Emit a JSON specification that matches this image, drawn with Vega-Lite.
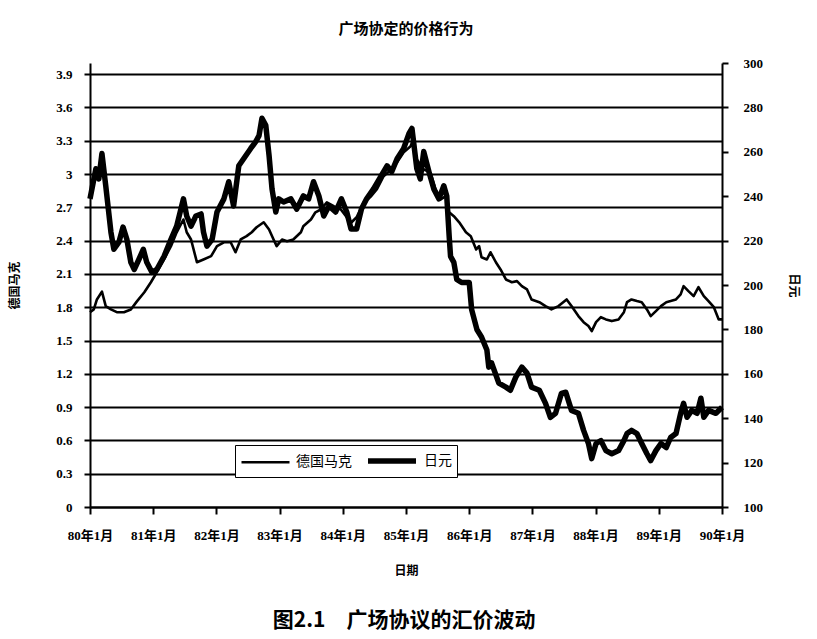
{
  "$schema": "https://vega.github.io/schema/vega-lite/v6.json",
  "background": "white",
  "padding": {"left": 8, "top": 22, "right": 10, "bottom": 8},
  "config": {"view": {"stroke": null}, "font": "Liberation Serif"},
  "title": {
    "text": "图2.1\u3000广场协议的汇价波动",
    "orient": "bottom",
    "font": "Noto Sans CJK SC",
    "fontSize": 21,
    "fontWeight": "bold",
    "color": "#000",
    "anchor": "middle",
    "offset": 34
  },
  "vconcat": [
    {
      "width": 632,
      "height": 444,
      "title": {
        "text": "广场协定的价格行为",
        "font": "Noto Sans CJK SC",
        "fontSize": 15,
        "fontWeight": "bold",
        "color": "#000",
        "offset": 20
      },
      "data": {
        "values": [
          {"date": "1980-01-01", "series": "日元", "value": 238.8},
          {"date": "1980-02-04", "series": "日元", "value": 252.4},
          {"date": "1980-02-21", "series": "日元", "value": 247.8},
          {"date": "1980-03-10", "series": "日元", "value": 259.2},
          {"date": "1980-04-01", "series": "日元", "value": 244.7},
          {"date": "1980-05-01", "series": "日元", "value": 223.8},
          {"date": "1980-05-18", "series": "日元", "value": 216.1},
          {"date": "1980-06-16", "series": "日元", "value": 219.3},
          {"date": "1980-07-10", "series": "日元", "value": 226.1},
          {"date": "1980-08-01", "series": "日元", "value": 220.6},
          {"date": "1980-08-24", "series": "日元", "value": 210.2},
          {"date": "1980-09-13", "series": "日元", "value": 207.0},
          {"date": "1980-10-10", "series": "日元", "value": 211.6},
          {"date": "1980-11-04", "series": "日元", "value": 216.1},
          {"date": "1980-11-24", "series": "日元", "value": 210.2},
          {"date": "1980-12-24", "series": "日元", "value": 205.7},
          {"date": "1981-01-21", "series": "日元", "value": 207.0},
          {"date": "1981-03-04", "series": "日元", "value": 212.9},
          {"date": "1981-04-13", "series": "日元", "value": 220.6},
          {"date": "1981-05-16", "series": "日元", "value": 226.5},
          {"date": "1981-06-24", "series": "日元", "value": 238.8},
          {"date": "1981-07-13", "series": "日元", "value": 231.1},
          {"date": "1981-08-07", "series": "日元", "value": 226.5},
          {"date": "1981-09-04", "series": "日元", "value": 231.1},
          {"date": "1981-10-04", "series": "日元", "value": 232.0},
          {"date": "1981-10-18", "series": "日元", "value": 223.8},
          {"date": "1981-11-07", "series": "日元", "value": 217.5},
          {"date": "1981-12-07", "series": "日元", "value": 220.6},
          {"date": "1982-01-04", "series": "日元", "value": 232.9},
          {"date": "1982-02-13", "series": "日元", "value": 238.8},
          {"date": "1982-03-13", "series": "日元", "value": 246.5},
          {"date": "1982-04-10", "series": "日元", "value": 235.6},
          {"date": "1982-05-10", "series": "日元", "value": 253.7},
          {"date": "1982-06-07", "series": "日元", "value": 256.9},
          {"date": "1982-07-18", "series": "日元", "value": 261.5},
          {"date": "1982-08-16", "series": "日元", "value": 264.6},
          {"date": "1982-09-04", "series": "日元", "value": 267.3},
          {"date": "1982-09-21", "series": "日元", "value": 275.1},
          {"date": "1982-10-13", "series": "日元", "value": 271.9},
          {"date": "1982-11-01", "series": "日元", "value": 258.3},
          {"date": "1982-11-18", "series": "日元", "value": 243.3},
          {"date": "1982-12-10", "series": "日元", "value": 232.9},
          {"date": "1982-12-27", "series": "日元", "value": 238.8},
          {"date": "1983-01-24", "series": "日元", "value": 237.4},
          {"date": "1983-03-07", "series": "日元", "value": 238.8},
          {"date": "1983-04-10", "series": "日元", "value": 234.2},
          {"date": "1983-05-18", "series": "日元", "value": 240.1},
          {"date": "1983-06-18", "series": "日元", "value": 238.8},
          {"date": "1983-07-16", "series": "日元", "value": 246.5},
          {"date": "1983-08-16", "series": "日元", "value": 240.1},
          {"date": "1983-09-13", "series": "日元", "value": 231.1},
          {"date": "1983-10-13", "series": "日元", "value": 235.6},
          {"date": "1983-11-21", "series": "日元", "value": 232.9},
          {"date": "1983-12-24", "series": "日元", "value": 238.8},
          {"date": "1984-01-24", "series": "日元", "value": 232.9},
          {"date": "1984-02-18", "series": "日元", "value": 225.2},
          {"date": "1984-03-21", "series": "日元", "value": 225.2},
          {"date": "1984-04-18", "series": "日元", "value": 234.2},
          {"date": "1984-05-18", "series": "日元", "value": 238.8},
          {"date": "1984-06-27", "series": "日元", "value": 243.3},
          {"date": "1984-08-10", "series": "日元", "value": 249.2},
          {"date": "1984-09-13", "series": "日元", "value": 253.7},
          {"date": "1984-10-10", "series": "日元", "value": 251.0},
          {"date": "1984-11-10", "series": "日元", "value": 256.9},
          {"date": "1984-12-18", "series": "日元", "value": 261.5},
          {"date": "1985-01-18", "series": "日元", "value": 268.3},
          {"date": "1985-02-04", "series": "日元", "value": 270.5},
          {"date": "1985-03-04", "series": "日元", "value": 252.4},
          {"date": "1985-03-24", "series": "日元", "value": 247.8},
          {"date": "1985-04-13", "series": "日元", "value": 260.1},
          {"date": "1985-05-13", "series": "日元", "value": 251.0},
          {"date": "1985-06-10", "series": "日元", "value": 243.3},
          {"date": "1985-07-10", "series": "日元", "value": 238.8},
          {"date": "1985-08-07", "series": "日元", "value": 244.7},
          {"date": "1985-08-24", "series": "日元", "value": 240.1},
          {"date": "1985-09-07", "series": "日元", "value": 222.0},
          {"date": "1985-09-15", "series": "日元", "value": 212.9},
          {"date": "1985-10-04", "series": "日元", "value": 210.2},
          {"date": "1985-10-21", "series": "日元", "value": 202.5},
          {"date": "1985-11-18", "series": "日元", "value": 201.1},
          {"date": "1986-01-01", "series": "日元", "value": 201.1},
          {"date": "1986-01-15", "series": "日元", "value": 188.9},
          {"date": "1986-02-15", "series": "日元", "value": 179.8},
          {"date": "1986-03-13", "series": "日元", "value": 176.6},
          {"date": "1986-04-13", "series": "日元", "value": 170.7},
          {"date": "1986-04-24", "series": "日元", "value": 163.0},
          {"date": "1986-05-10", "series": "日元", "value": 164.9},
          {"date": "1986-06-21", "series": "日元", "value": 155.8},
          {"date": "1986-08-01", "series": "日元", "value": 154.0},
          {"date": "1986-08-27", "series": "日元", "value": 152.6},
          {"date": "1986-09-27", "series": "日元", "value": 158.5},
          {"date": "1986-11-01", "series": "日元", "value": 163.0},
          {"date": "1986-12-01", "series": "日元", "value": 160.3},
          {"date": "1986-12-27", "series": "日元", "value": 154.0},
          {"date": "1987-02-10", "series": "日元", "value": 152.6},
          {"date": "1987-03-18", "series": "日元", "value": 146.7},
          {"date": "1987-04-15", "series": "日元", "value": 140.4},
          {"date": "1987-05-15", "series": "日元", "value": 142.2},
          {"date": "1987-06-18", "series": "日元", "value": 151.2},
          {"date": "1987-07-13", "series": "日元", "value": 151.7},
          {"date": "1987-08-15", "series": "日元", "value": 143.5},
          {"date": "1987-09-24", "series": "日元", "value": 142.2},
          {"date": "1987-10-24", "series": "日元", "value": 134.5},
          {"date": "1987-11-21", "series": "日元", "value": 128.6},
          {"date": "1987-12-10", "series": "日元", "value": 121.8},
          {"date": "1988-01-04", "series": "日元", "value": 128.6},
          {"date": "1988-02-01", "series": "日元", "value": 129.9},
          {"date": "1988-03-01", "series": "日元", "value": 125.4},
          {"date": "1988-04-04", "series": "日元", "value": 124.0},
          {"date": "1988-05-13", "series": "日元", "value": 125.4},
          {"date": "1988-06-13", "series": "日元", "value": 129.9},
          {"date": "1988-07-01", "series": "日元", "value": 133.1},
          {"date": "1988-07-27", "series": "日元", "value": 134.5},
          {"date": "1988-08-27", "series": "日元", "value": 133.1},
          {"date": "1988-09-24", "series": "日元", "value": 128.6},
          {"date": "1988-10-24", "series": "日元", "value": 124.0},
          {"date": "1988-11-15", "series": "日元", "value": 120.9},
          {"date": "1988-12-15", "series": "日元", "value": 125.4},
          {"date": "1989-01-13", "series": "日元", "value": 128.6},
          {"date": "1989-02-13", "series": "日元", "value": 126.8},
          {"date": "1989-03-10", "series": "日元", "value": 131.3},
          {"date": "1989-04-10", "series": "日元", "value": 133.1},
          {"date": "1989-05-07", "series": "日元", "value": 142.2},
          {"date": "1989-05-24", "series": "日元", "value": 146.7},
          {"date": "1989-06-13", "series": "日元", "value": 140.4},
          {"date": "1989-07-10", "series": "日元", "value": 143.5},
          {"date": "1989-08-10", "series": "日元", "value": 142.2},
          {"date": "1989-09-01", "series": "日元", "value": 149.0},
          {"date": "1989-09-18", "series": "日元", "value": 140.4},
          {"date": "1989-10-15", "series": "日元", "value": 143.5},
          {"date": "1989-11-27", "series": "日元", "value": 142.2},
          {"date": "1990-01-01", "series": "日元", "value": 144.9},
          {"date": "1980-01-01", "series": "德国马克", "value": 1.755},
          {"date": "1980-01-23", "series": "德国马克", "value": 1.78},
          {"date": "1980-02-10", "series": "德国马克", "value": 1.87},
          {"date": "1980-03-10", "series": "德国马克", "value": 1.94},
          {"date": "1980-04-01", "series": "德国马克", "value": 1.81},
          {"date": "1980-05-01", "series": "德国马克", "value": 1.78},
          {"date": "1980-06-04", "series": "德国马克", "value": 1.755},
          {"date": "1980-07-15", "series": "德国马克", "value": 1.755},
          {"date": "1980-08-24", "series": "德国马克", "value": 1.78},
          {"date": "1980-09-27", "series": "德国马克", "value": 1.85},
          {"date": "1980-11-10", "series": "德国马克", "value": 1.935},
          {"date": "1980-12-18", "series": "德国马克", "value": 2.025},
          {"date": "1981-01-21", "series": "德国马克", "value": 2.115},
          {"date": "1981-03-04", "series": "德国马克", "value": 2.23},
          {"date": "1981-04-13", "series": "德国马克", "value": 2.35},
          {"date": "1981-05-16", "series": "德国马克", "value": 2.475},
          {"date": "1981-06-24", "series": "德国马克", "value": 2.59},
          {"date": "1981-07-13", "series": "德国马克", "value": 2.475},
          {"date": "1981-08-07", "series": "德国马克", "value": 2.41},
          {"date": "1981-09-10", "series": "德国马克", "value": 2.205},
          {"date": "1981-10-18", "series": "德国马克", "value": 2.23},
          {"date": "1981-12-01", "series": "德国马克", "value": 2.26},
          {"date": "1982-01-04", "series": "德国马克", "value": 2.35},
          {"date": "1982-02-13", "series": "德国马克", "value": 2.385},
          {"date": "1982-03-24", "series": "德国马克", "value": 2.385},
          {"date": "1982-04-21", "series": "德国马克", "value": 2.295},
          {"date": "1982-05-21", "series": "德国马克", "value": 2.41},
          {"date": "1982-06-24", "series": "德国马克", "value": 2.44},
          {"date": "1982-07-24", "series": "德国马克", "value": 2.475},
          {"date": "1982-08-21", "series": "德国马克", "value": 2.52},
          {"date": "1982-10-01", "series": "德国马克", "value": 2.565},
          {"date": "1982-11-01", "series": "德国马克", "value": 2.50},
          {"date": "1982-11-27", "series": "德国马克", "value": 2.41},
          {"date": "1982-12-15", "series": "德国马克", "value": 2.35},
          {"date": "1983-01-15", "series": "德国马克", "value": 2.41},
          {"date": "1983-02-13", "series": "德国马克", "value": 2.395},
          {"date": "1983-03-21", "series": "德国马克", "value": 2.41},
          {"date": "1983-05-04", "series": "德国马克", "value": 2.475},
          {"date": "1983-05-18", "series": "德国马克", "value": 2.53},
          {"date": "1983-07-01", "series": "德国马克", "value": 2.59},
          {"date": "1983-07-27", "series": "德国马克", "value": 2.655},
          {"date": "1983-08-27", "series": "德国马克", "value": 2.68},
          {"date": "1983-10-01", "series": "德国马克", "value": 2.745},
          {"date": "1983-11-10", "series": "德国马克", "value": 2.71},
          {"date": "1983-12-21", "series": "德国马克", "value": 2.68},
          {"date": "1984-01-24", "series": "德国马克", "value": 2.61},
          {"date": "1984-02-21", "series": "德国马克", "value": 2.565},
          {"date": "1984-03-21", "series": "德国马克", "value": 2.61},
          {"date": "1984-05-01", "series": "德国马克", "value": 2.745},
          {"date": "1984-06-13", "series": "德国马克", "value": 2.80},
          {"date": "1984-07-15", "series": "德国马克", "value": 2.86},
          {"date": "1984-08-24", "series": "德国马克", "value": 2.98},
          {"date": "1984-10-07", "series": "德国马克", "value": 3.04},
          {"date": "1984-11-10", "series": "德国马克", "value": 3.105},
          {"date": "1984-12-18", "series": "德国马克", "value": 3.195},
          {"date": "1985-01-27", "series": "德国马克", "value": 3.25},
          {"date": "1985-02-04", "series": "德国马克", "value": 3.285},
          {"date": "1985-03-04", "series": "德国马克", "value": 3.13},
          {"date": "1985-04-13", "series": "德国马克", "value": 3.04},
          {"date": "1985-05-21", "series": "德国马克", "value": 3.015},
          {"date": "1985-06-21", "series": "德国马克", "value": 2.86},
          {"date": "1985-07-18", "series": "德国马克", "value": 2.77},
          {"date": "1985-08-18", "series": "德国马克", "value": 2.80},
          {"date": "1985-09-07", "series": "德国马克", "value": 2.655},
          {"date": "1985-10-04", "series": "德国马克", "value": 2.62},
          {"date": "1985-11-04", "series": "德国马克", "value": 2.565},
          {"date": "1985-12-13", "series": "德国马克", "value": 2.475},
          {"date": "1986-01-10", "series": "德国马克", "value": 2.44},
          {"date": "1986-02-10", "series": "德国马克", "value": 2.32},
          {"date": "1986-02-27", "series": "德国马克", "value": 2.35},
          {"date": "1986-03-13", "series": "德国马克", "value": 2.25},
          {"date": "1986-04-13", "series": "德国马克", "value": 2.23},
          {"date": "1986-05-04", "series": "德国马克", "value": 2.295},
          {"date": "1986-06-04", "series": "德国马克", "value": 2.205},
          {"date": "1986-07-01", "series": "德国马克", "value": 2.14},
          {"date": "1986-08-01", "series": "德国马克", "value": 2.05},
          {"date": "1986-09-04", "series": "德国马克", "value": 2.025},
          {"date": "1986-10-04", "series": "德国马克", "value": 2.035},
          {"date": "1986-11-01", "series": "德国马克", "value": 1.99},
          {"date": "1986-12-01", "series": "德国马克", "value": 1.96},
          {"date": "1986-12-27", "series": "德国马克", "value": 1.87},
          {"date": "1987-02-10", "series": "德国马克", "value": 1.845},
          {"date": "1987-03-18", "series": "德国马克", "value": 1.81},
          {"date": "1987-04-21", "series": "德国马克", "value": 1.78},
          {"date": "1987-06-01", "series": "德国马克", "value": 1.81},
          {"date": "1987-07-18", "series": "德国马克", "value": 1.87},
          {"date": "1987-08-15", "series": "德国马克", "value": 1.81},
          {"date": "1987-09-24", "series": "德国马克", "value": 1.72},
          {"date": "1987-10-24", "series": "德国马克", "value": 1.665},
          {"date": "1987-11-21", "series": "德国马克", "value": 1.63},
          {"date": "1987-12-10", "series": "德国马克", "value": 1.585},
          {"date": "1988-01-04", "series": "德国马克", "value": 1.665},
          {"date": "1988-02-01", "series": "德国马克", "value": 1.71},
          {"date": "1988-03-01", "series": "德国马克", "value": 1.69},
          {"date": "1988-04-04", "series": "德国马克", "value": 1.675},
          {"date": "1988-05-13", "series": "德国马克", "value": 1.69},
          {"date": "1988-06-13", "series": "德国马克", "value": 1.755},
          {"date": "1988-07-01", "series": "德国马克", "value": 1.845},
          {"date": "1988-07-27", "series": "德国马克", "value": 1.87},
          {"date": "1988-08-27", "series": "德国马克", "value": 1.855},
          {"date": "1988-09-24", "series": "德国马克", "value": 1.845},
          {"date": "1988-10-24", "series": "德国马克", "value": 1.78},
          {"date": "1988-11-15", "series": "德国马克", "value": 1.72},
          {"date": "1988-12-15", "series": "德国马克", "value": 1.765},
          {"date": "1989-01-13", "series": "德国马克", "value": 1.81},
          {"date": "1989-02-13", "series": "德国马克", "value": 1.845},
          {"date": "1989-03-10", "series": "德国马克", "value": 1.855},
          {"date": "1989-04-10", "series": "德国马克", "value": 1.87},
          {"date": "1989-05-07", "series": "德国马克", "value": 1.915},
          {"date": "1989-05-24", "series": "德国马克", "value": 1.99},
          {"date": "1989-06-21", "series": "德国马克", "value": 1.945},
          {"date": "1989-07-21", "series": "德国马克", "value": 1.90},
          {"date": "1989-08-18", "series": "德国马克", "value": 1.98},
          {"date": "1989-09-18", "series": "德国马克", "value": 1.90},
          {"date": "1989-10-15", "series": "德国马克", "value": 1.855},
          {"date": "1989-11-15", "series": "德国马克", "value": 1.80},
          {"date": "1989-12-13", "series": "德国马克", "value": 1.69},
          {"date": "1990-01-01", "series": "德国马克", "value": 1.69}
        ]
      },
      "encoding": {
        "x": {
          "field": "date",
          "type": "temporal",
          "scale": {
            "type": "utc",
            "domain": [
              {"year": 1980, "month": 1, "date": 1, "utc": true},
              {"year": 1990, "month": 1, "date": 1, "utc": true}
            ]
          },
          "axis": {
            "values": [
              {"year": 1980, "month": 1, "date": 1, "utc": true},
              {"year": 1981, "month": 1, "date": 1, "utc": true},
              {"year": 1982, "month": 1, "date": 1, "utc": true},
              {"year": 1983, "month": 1, "date": 1, "utc": true},
              {"year": 1984, "month": 1, "date": 1, "utc": true},
              {"year": 1985, "month": 1, "date": 1, "utc": true},
              {"year": 1986, "month": 1, "date": 1, "utc": true},
              {"year": 1987, "month": 1, "date": 1, "utc": true},
              {"year": 1988, "month": 1, "date": 1, "utc": true},
              {"year": 1989, "month": 1, "date": 1, "utc": true},
              {"year": 1990, "month": 1, "date": 1, "utc": true}
            ],
            "labelExpr": "utcFormat(datum.value, '%y年%-m月')",
            "title": "日期",
            "titleFont": "Noto Sans CJK SC",
            "titleFontSize": 12,
            "titleFontWeight": "bold",
            "titleColor": "#000",
            "titlePadding": 23,
            "labelFont": "Liberation Serif, Noto Sans CJK SC",
            "labelFontSize": 13,
            "labelFontWeight": "bold",
            "labelColor": "#000",
            "labelPadding": 15,
            "labelFlush": false,
            "labelOverlap": false,
            "tickSize": 7,
            "tickColor": "#000",
            "tickWidth": 2,
            "domainColor": "#000",
            "domainWidth": 2,
            "grid": false
          }
        },
        "strokeWidth": {
          "field": "series",
          "type": "nominal",
          "scale": {"type": "ordinal", "domain": ["德国马克", "日元"], "range": [2.6, 5.5]},
          "legend": {
            "orient": "none",
            "legendX": 145,
            "legendY": 382,
            "direction": "horizontal",
            "title": null,
            "strokeColor": "#000",
            "fillColor": "#fff",
            "padding": 5,
            "symbolType": "M-1,0H5",
            "symbolSize": 256,
            "symbolStrokeColor": "#000",
            "labelFont": "Noto Sans CJK SC",
            "labelFontSize": 14,
            "labelColor": "#000",
            "labelOffset": 37,
            "columnPadding": 5
          }
        }
      },
      "layer": [
        {
          "transform": [{"filter": "datum.series === '德国马克'"}],
          "mark": {"type": "line", "color": "#000", "strokeJoin": "round"},
          "encoding": {
            "y": {
              "field": "value",
              "type": "quantitative",
              "scale": {"domain": [0, 4.0], "nice": false, "zero": true},
              "axis": {
                "orient": "left",
                "values": [0, 0.3, 0.6, 0.9, 1.2, 1.5, 1.8, 2.1, 2.4, 2.7, 3, 3.3, 3.6, 3.9],
                "labelExpr": "toString(round(datum.value * 10) / 10)",
                "title": "德国马克",
                "titleFont": "Noto Sans CJK SC",
                "titleFontSize": 12,
                "titleFontWeight": "bold",
                "titleColor": "#000",
                "titlePadding": 34,
                "labelFont": "Liberation Serif",
                "labelFontSize": 13,
                "labelFontWeight": "bold",
                "labelColor": "#000",
                "labelPadding": 12,
                "tickSize": 6,
                "tickColor": "#000",
                "tickWidth": 2,
                "domainColor": "#000",
                "domainWidth": 2,
                "grid": true,
                "gridColor": "#000",
                "gridWidth": 1.8
              }
            }
          }
        },
        {
          "transform": [{"filter": "datum.series === '日元'"}],
          "mark": {"type": "line", "color": "#000", "strokeJoin": "round"},
          "encoding": {
            "y": {
              "field": "value",
              "type": "quantitative",
              "scale": {"domain": [100, 300], "nice": false, "zero": false},
              "axis": {
                "orient": "right",
                "values": [100, 120, 140, 160, 180, 200, 220, 240, 260, 280, 300],
                "title": "日元",
                "titleFont": "Noto Sans CJK SC",
                "titleFontSize": 12,
                "titleFontWeight": "bold",
                "titleColor": "#000",
                "titlePadding": 24,
                "labelFont": "Liberation Serif",
                "labelFontSize": 13,
                "labelFontWeight": "bold",
                "labelColor": "#000",
                "labelPadding": 15,
                "tickSize": 6,
                "tickColor": "#000",
                "tickWidth": 2,
                "domainColor": "#000",
                "domainWidth": 2,
                "grid": false
              }
            }
          }
        }
      ],
      "resolve": {"scale": {"y": "independent"}}
    }
  ]
}
